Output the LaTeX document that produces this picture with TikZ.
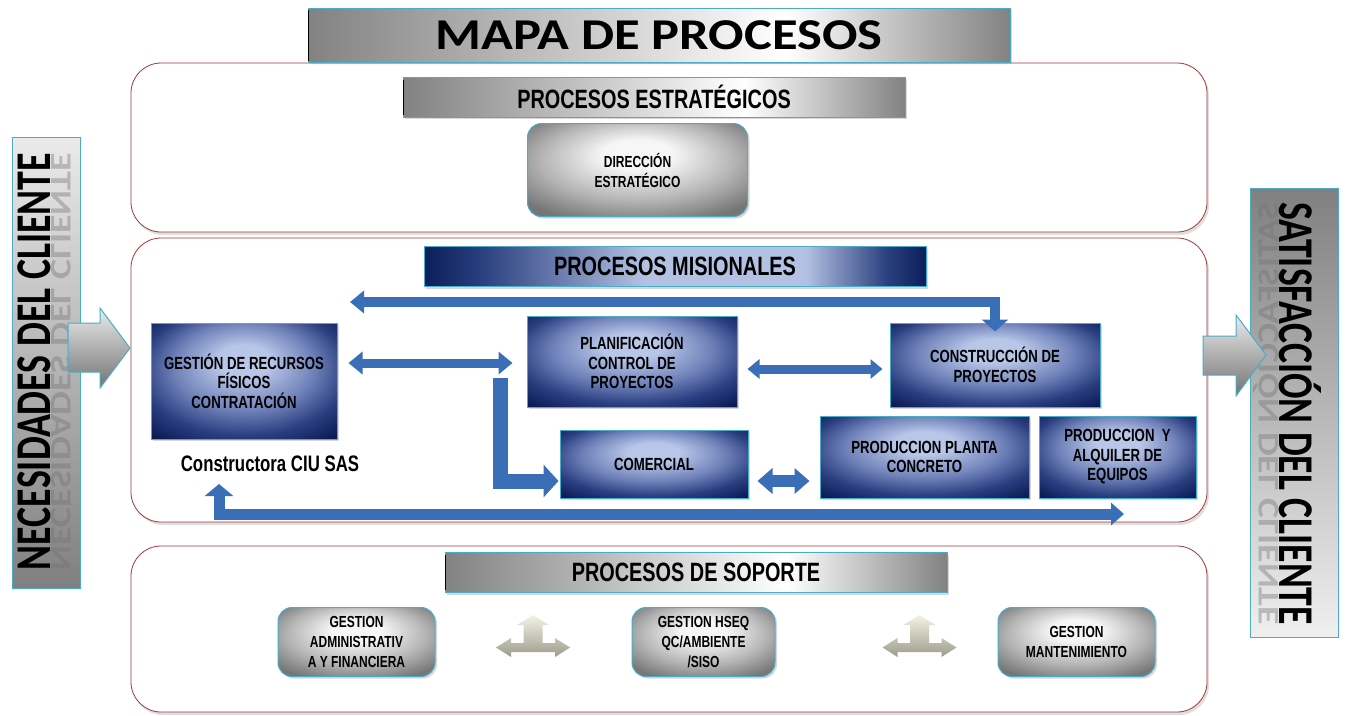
\documentclass[tikz,border=0pt]{standalone}
\usepackage{fontspec}
\usetikzlibrary{arrows.meta,shadows,calc}
\newfontfamily\agency[FakeStretch=0.75]{Liberation Sans}
\newfontfamily\calib{Carlito}
\definecolor{frameRed}{HTML}{A4373A}
\definecolor{cyanB}{HTML}{4BACC6}
\definecolor{arrowBlue}{HTML}{3A6FB7}
\definecolor{boxLight}{HTML}{B8C6E8}
\definecolor{boxMid}{HTML}{6E80B8}
\definecolor{boxDarkB}{HTML}{2A3E80}
\definecolor{boxDark}{HTML}{0B1B56}
\definecolor{gLight}{HTML}{F6F6F6}
\definecolor{gMid}{HTML}{B4B4B4}
\definecolor{gDark}{HTML}{767676}
\definecolor{barG}{HTML}{828282}
\definecolor{navyB}{HTML}{0B1E5B}
\definecolor{navyM}{HTML}{2C4180}
\definecolor{navyL}{HTML}{B3C1E3}
\definecolor{beigeT}{HTML}{F4F2E4}
\definecolor{beigeB}{HTML}{9C9C8C}
\pgfdeclareradialshading{blueshade}{\pgfpoint{0bp}{10bp}}{color(0bp)=(boxLight); color(7bp)=(boxLight); color(19bp)=(boxMid); color(28bp)=(boxDarkB); color(36bp)=(boxDark); color(50bp)=(boxDark)}
\pgfdeclareradialshading{grayshade}{\pgfpoint{0bp}{10bp}}{color(0bp)=(gLight); color(8bp)=(gLight); color(22bp)=(gMid); color(33bp)=(gDark); color(50bp)=(gDark)}
\pgfdeclarehorizontalshading{graybarshade}{100bp}{color(0bp)=(barG); color(25bp)=(barG); color(59bp)=(white); color(75bp)=(barG); color(100bp)=(barG)}
\pgfdeclarehorizontalshading{navybarshade}{100bp}{color(0bp)=(navyB); color(25bp)=(navyB); color(31bp)=(navyM); color(47bp)=(navyL); color(63bp)=(navyL); color(71bp)=(navyM); color(75bp)=(navyB); color(100bp)=(navyB)}
\tikzset{
  frame/.style={draw=frameRed, line width=0.8pt, fill=white, rounded corners=30pt, inner sep=0pt,
    drop shadow={opacity=0.25, shadow xshift=2pt, shadow yshift=-3pt}},
  bbox/.style={draw=cyanB, line width=1pt, shading=blueshade, inner sep=0pt, align=center, text=black,
    font=\agency\bfseries\fontsize{17.6pt}{19.5pt}\selectfont,
    drop shadow={opacity=0.3, shadow xshift=2pt, shadow yshift=-2pt}},
  gbox/.style={draw=cyanB, line width=1pt, shading=grayshade, rounded corners=14pt, inner sep=0pt, align=center, text=black,
    font=\agency\bfseries\fontsize{16pt}{20pt}\selectfont,
    drop shadow={opacity=0.3, shadow xshift=2pt, shadow yshift=-2pt}},
  gbar/.style={draw=cyanB, line width=1pt, shading=graybarshade, inner sep=0pt, text=black,
    font=\agency\bfseries\fontsize{26.5pt}{26.5pt}\selectfont,
    drop shadow={opacity=0.3, shadow xshift=2pt, shadow yshift=-2pt}},
  nbar/.style={draw=cyanB, line width=1pt, shading=navybarshade, inner sep=0pt, text=black,
    font=\agency\bfseries\fontsize{26.5pt}{26.5pt}\selectfont,
    drop shadow={opacity=0.3, shadow xshift=2pt, shadow yshift=-2pt}},
  conn/.style={draw=arrowBlue, line join=miter},
  sidetext/.style={text=black, inner sep=0pt, anchor=base, font=\calib\bfseries\fontsize{50pt}{50pt}\selectfont},
  reflect/.style={text=black!55, text opacity=0.4, inner sep=0pt, anchor=base, font=\calib\bfseries\fontsize{50pt}{50pt}\selectfont},
  threeway/.pic={
    \path[top color=beigeT, bottom color=beigeB]
      (0,-32.5) -- (16,-22.5) -- (9.5,-22.5) -- (9.5,-4.5) -- (22,-4.5) -- (22,-9.5) -- (37,0)
      -- (22,9.5) -- (22,4.5) -- (-22,4.5) -- (-22,9.5) -- (-37,0) -- (-22,-9.5) -- (-22,-4.5)
      -- (-9.5,-4.5) -- (-9.5,-22.5) -- (-16,-22.5) -- cycle;
  }
}
\begin{document}
\begin{tikzpicture}[x=1pt,y=-1pt]
\useasboundingbox (0,0) rectangle (1348,715);
\fill[white] (0,0) rectangle (1348,715);

% frames
\node[frame, minimum width=1076pt, minimum height=169pt] (fr1) at (669,147.5) {};
\node[frame, minimum width=1076pt, minimum height=284pt] (fr2) at (669,380) {};
\node[frame, minimum width=1076pt, minimum height=166pt] (fr3) at (669,629) {};

% title
\node[gbar, minimum width=702pt, minimum height=54pt, font=\calib\bfseries\fontsize{44pt}{44pt}\selectfont] (title) at (659,35) {\resizebox{447pt}{\height}{MAPA DE PROCESOS}};
\draw[black, line width=1.5pt] ([xshift=1pt,yshift=-2pt]title.north west) -- ([xshift=1pt,yshift=2pt]title.south west);

% estrategicos
\node[gbar, minimum width=502pt, minimum height=40pt] (pe) at (654,97) {PROCESOS ESTRATÉGICOS};
\draw[black, line width=1.2pt] ([xshift=1pt,yshift=-3pt]pe.north west) -- ([xshift=1pt,yshift=3pt]pe.south west);
\node[gbox, minimum width=220pt, minimum height=93pt] (dir) at (637.5,170) {DIRECCIÓN\\ESTRATÉGICO};

% misionales
\node[nbar, minimum width=502pt, minimum height=40pt] (pm) at (675,266.5) {PROCESOS MISIONALES};

\node[bbox, minimum width=186pt, minimum height=116pt] (gest) at (244,381) {GESTIÓN DE RECURSOS\\FÍSICOS\\CONTRATACIÓN};
\node[bbox, minimum width=210pt, minimum height=91pt] (plan) at (632,361.5) {PLANIFICACIÓN\\CONTROL DE\\PROYECTOS};
\node[bbox, minimum width=210pt, minimum height=84pt] (constr) at (995,365) {CONSTRUCCIÓN DE\\PROYECTOS};
\node[bbox, minimum width=188pt, minimum height=68pt] (com) at (654,464) {COMERCIAL};
\node[bbox, minimum width=209pt, minimum height=82pt] (planta) at (924.5,457) {PRODUCCION PLANTA\\CONCRETO};
\node[bbox, minimum width=157pt, minimum height=82pt] (alq) at (1117.5,457) {PRODUCCION \ Y\\ALQUILER DE\\EQUIPOS};
\node[inner sep=0pt, font=\agency\bfseries\fontsize{22.4pt}{22.4pt}\selectfont] (ciu) at (270,464) {Constructora CIU SAS};

% connectors
\coordinate (tl) at (350,302);
\draw[conn, line width=10pt, {Triangle[width=22pt,length=14pt]}-{Triangle[width=26pt,length=12pt]}]
  (tl) -- (tl -| constr) -- ([yshift=-9pt]constr.north);
\draw[conn, line width=9pt, {Triangle[width=22pt,length=14pt]}-{Triangle[width=22pt,length=14pt]}]
  ($(gest.east |- plan.west)+(11,1.5)$) -- ($(plan.west)+(-14,1.5)$);
\draw[conn, line width=9pt, {Triangle[width=19pt,length=12pt]}-{Triangle[width=19pt,length=12pt]}]
  ($(plan.east)+(10,7.5)$) -- ($(constr.west)+(-7,4)$);
\draw[conn, line width=15pt, -{Triangle[width=32pt,length=15pt]}]
  ($(plan.west)+(-26,16.5)$) |- ($(com.west)+(-1,17)$);
\draw[conn, line width=12pt, {Triangle[width=25pt,length=15pt]}-{Triangle[width=25pt,length=15pt]}]
  ($(com.east)+(9,17)$) -- ($(planta.west)+(-10,24)$);
\coordinate (bl) at (219,484);
\coordinate (br) at (1124,514);
\draw[conn, line width=11pt, {Triangle[width=28pt,length=12pt]}-{Triangle[width=22pt,length=13pt]}]
  (bl) |- (br);

% soporte
\node[gbar, minimum width=502pt, minimum height=40pt] (ps) at (696,572.5) {PROCESOS DE SOPORTE};
\draw[black, line width=1.2pt] ([xshift=1pt,yshift=-3pt]ps.north west) -- ([xshift=1pt,yshift=3pt]ps.south west);
\node[gbox, minimum width=157pt, minimum height=69pt] (adm) at (356.5,642) {GESTION\\ADMINISTRATIV\\A Y FINANCIERA};
\node[gbox, minimum width=143pt, minimum height=69pt] (hseq) at (703.5,642) {GESTION HSEQ\\QC/AMBIENTE\\/SISO};
\node[gbox, minimum width=157pt, minimum height=69pt] (mant) at (1076.5,642) {GESTION\\MANTENIMIENTO};
\pic at (533,647.5) {threeway};
\pic at (919.5,647.5) {threeway};

% left side
\node[draw=cyanB, line width=1pt, top color=black!8, bottom color=black!50, minimum width=68pt, minimum height=451pt, inner sep=0pt] (lpanel) at (46,362.5) {};
\node[reflect, rotate=90, yscale=-0.6] (necr) at (51,361.5) {\resizebox{417pt}{\height}{NECESIDADES DEL CLIENTE}};
\node[sidetext, rotate=90] (nec) at (50,361.5) {\resizebox{417pt}{\height}{NECESIDADES DEL CLIENTE}};
\path[draw=cyanB, line width=1pt, top color=black!8, bottom color=black!55]
  (68,323) -- (100,323) -- (100,308) -- (130,348) -- (100,388) -- (100,372) -- (68,372) -- cycle;

% right side
\node[draw=cyanB, line width=1pt, top color=black!50, bottom color=black!6, minimum width=88pt, minimum height=449pt, inner sep=0pt] (rpanel) at (1294,412.5) {};
\node[reflect, rotate=-90, yscale=-0.6] (satr) at (1278,413.5) {\resizebox{423pt}{\height}{SATISFACCIÓN DEL CLIENTE}};
\node[sidetext, rotate=-90] (sat) at (1279,413.5) {\resizebox{423pt}{\height}{SATISFACCIÓN DEL CLIENTE}};
\path[draw=cyanB, line width=1pt, top color=black!8, bottom color=black!55]
  (1203,336) -- (1236,336) -- (1236,315) -- (1266,355) -- (1236,396) -- (1236,375) -- (1203,375) -- cycle;
\end{tikzpicture}
\end{document}
